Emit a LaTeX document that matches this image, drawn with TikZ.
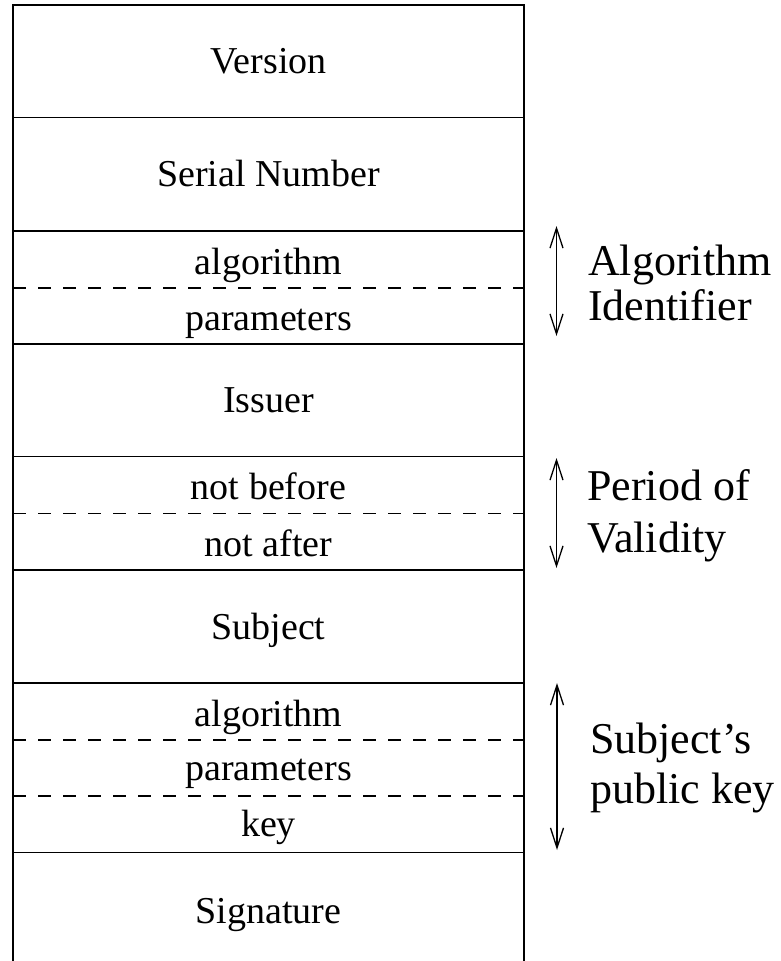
\documentclass[tikz,border=0pt]{standalone}
\usepackage{fontspec}
\setmainfont{Liberation Serif}
\usetikzlibrary{arrows.meta}
\begin{document}
\begin{tikzpicture}[x=1pt,y=-1pt,
  rule/.style={line width=1.5pt},
  subrule/.style={line width=1.5pt,dash pattern=on 13pt off 12pt},
  field/.style={anchor=base,inner sep=0pt,font=\fontsize{38}{42}\selectfont},
  span/.style={line width=1.3pt,{Straight Barb[length=20pt,width=13pt,line width=1.3pt]}-{Straight Barb[length=20pt,width=13pt,line width=1.3pt]}},
  sidelabel/.style={anchor=base west,inner sep=0pt,align=left,font=\fontsize{44}{#1}\selectfont},
]
\useasboundingbox (0,0) rectangle (780,961);

% outer frame (open at the bottom)
\draw[line width=1.8pt] (13,961) -- (13,5) -- (524,5) -- (524,961);

% solid separators between fields
\foreach \y in {117.5,231,344,456.5,570,683,852.7}
  \draw[rule] (13,\y) -- (524,\y);

% dashed separators between sub-fields
\foreach \y in {288,513.3,740,796}
  \draw[subrule] (13,\y) -- (524,\y);

% field names
\def\cx{268.5}
\node[field] (version)  at (\cx,73.3)  {Version};
\node[field] (serial)   at (\cx,186.7) {Serial Number};
\node[field] (sigalg)   at (\cx,274)   {algorithm};
\node[field] (sigpar)   at (\cx,330)   {parameters};
\node[field] (issuer)   at (\cx,412.5) {Issuer};
\node[field] (notbef)   at (\cx,499)   {not before};
\node[field] (notaft)   at (\cx,556)   {not after};
\node[field] (subject)  at (\cx,639)   {Subject};
\node[field] (pkalg)    at (\cx,726.7) {algorithm};
\node[field] (pkpar)    at (\cx,780)   {parameters};
\node[field] (pkkey)    at (\cx,836.7) {key};
\node[field] (signature) at (\cx,923)  {Signature};

% range markers
\coordinate (a1) at (556.5,226);  \coordinate (a2) at (556.5,336);
\coordinate (p1) at (556.5,458);  \coordinate (p2) at (556.5,568);
\coordinate (k1) at (557,683);    \coordinate (k2) at (557,850);
\draw[span] (a1) -- (a2);
\draw[span] (p1) -- (p2);
\draw[span] (k1) -- (k2);

% group labels (anchored on the baseline of their last line)
\node[sidelabel=45] (algid)  at (588,320) {Algorithm\\Identifier};
\node[sidelabel=52] (period) at (587,552) {Period of\\Validity};
\node[sidelabel=50] (pubkey) at (590,803) {Subject’s\\public key};
\end{tikzpicture}
\end{document}
